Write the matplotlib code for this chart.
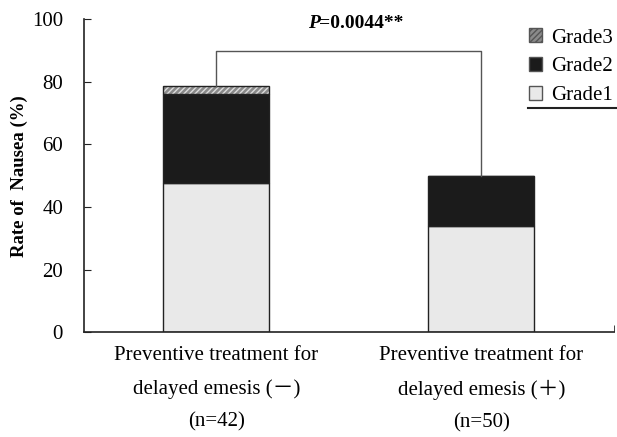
import numpy as np
import matplotlib.pyplot as plt
from matplotlib.patches import Patch

plt.rcParams['font.family'] = ['Liberation Serif', 'Noto Sans CJK JP', 'DejaVu Serif']

# data
groups = ['Preventive treatment for\ndelayed emesis (\uff0d)\n(n=42)',
          'Preventive treatment for\ndelayed emesis (\uff0b)\n(n=50)']
grade1 = [47.6, 34.0]
grade2 = [28.6, 16.0]
grade3 = [2.4, 0.0]
p_text = '=0.0044**'

c1 = '#e9e9e9'
c2 = '#1b1b1b'
c3 = '#8a8a8a'

fig = plt.figure(figsize=(6.17, 4.37), dpi=100)
ax = fig.add_axes([0.136, 0.240, 0.859, 0.716])

x = np.arange(len(groups))
w = 0.4
g1 = np.array(grade1)
g2 = np.array(grade2)
g3 = np.array(grade3)

ax.bar(x, g1, w, color=c1, edgecolor='#222222', linewidth=1)
ax.bar(x, g2, w, bottom=g1, color=c2, edgecolor='#222222', linewidth=1)
# hatched grade3: fill with hatch first, then outline
ax.bar(x, g3, w, bottom=g1 + g2, color=c3, edgecolor='#dddddd', hatch='//////', linewidth=0)
ax.bar(x, g3, w, bottom=g1 + g2, color='none', edgecolor='#222222', linewidth=1)

# significance bracket
tops = g1 + g2 + g3
ytop = 90
ax.plot([x[0], x[0], x[1], x[1]], [tops[0], ytop, ytop, tops[1]],
        color='#555555', lw=1)
tp = ax.text(0.344, 98.5, 'P', ha='left', va='center', fontsize=14,
             fontweight='bold', style='italic')
ax.annotate(p_text, xy=(1, 0), xycoords=tp, ha='left', va='bottom',
            fontsize=14, fontweight='bold')

ax.set_xlim(-0.5, 1.5)
ax.set_ylim(0, 100)
ax.set_yticks([0, 20, 40, 60, 80, 100])
ax.tick_params(axis='y', direction='in', length=5, labelsize=15, pad=15, color='#222222')
ax.set_xticks(x)
ax.set_xticklabels(groups, fontsize=15, linespacing=1.95)
ax.tick_params(axis='x', length=0, pad=10)
ax.set_xticks([1.5], minor=True)
ax.tick_params(axis='x', which='minor', direction='in', length=5, color='#222222')

ax.set_ylabel('Rate of  Nausea (%)', fontsize=13.5, fontweight='bold', labelpad=3)

for s in ['top', 'right']:
    ax.spines[s].set_visible(False)
for s in ['left', 'bottom']:
    ax.spines[s].set_color('#222222')
    ax.spines[s].set_linewidth(1.2)

handles = [Patch(facecolor=c3, edgecolor='#555555', hatch='//////', label='Grade3'),
           Patch(facecolor=c2, edgecolor='#555555', label='Grade2'),
           Patch(facecolor=c1, edgecolor='#555555', label='Grade1')]
ax.legend(handles=handles, loc='upper left', bbox_to_anchor=(0.812, 1.017), frameon=False,
          fontsize=15, handlelength=0.65, handleheight=0.65, handletextpad=0.4,
          labelspacing=0.45, borderpad=0.2)
ax.plot([0.837, 1.01], [0.716, 0.716], transform=ax.transAxes, color='#222222', lw=1.5,
        clip_on=False)

fig.savefig('out.png', dpi=100)
